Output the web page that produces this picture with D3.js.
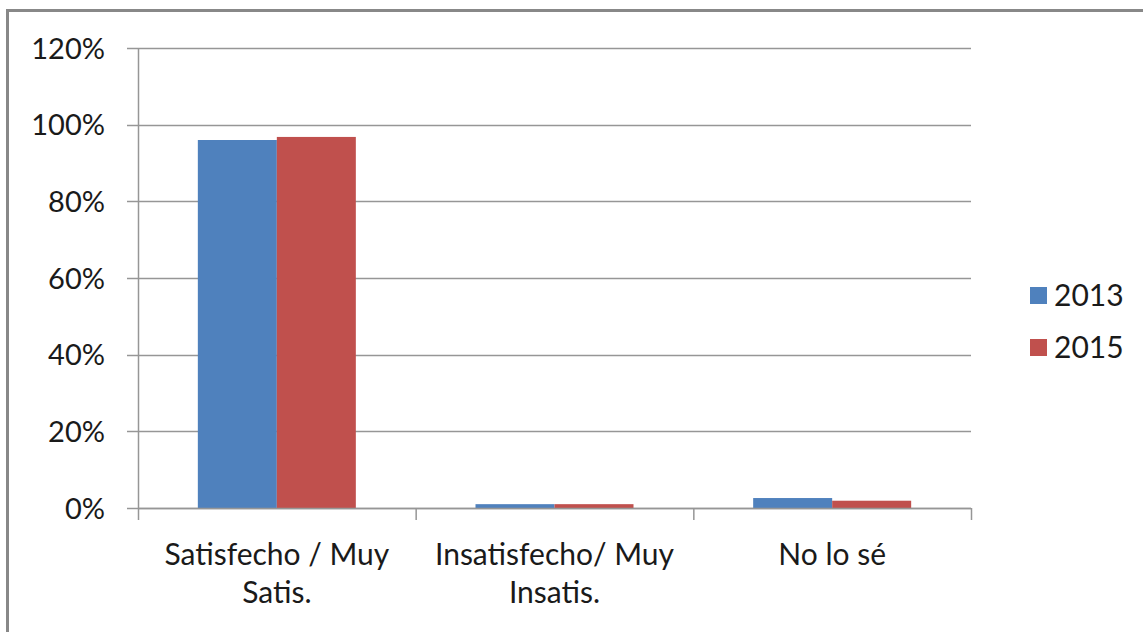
<!DOCTYPE html>
<html>
<head>
<meta charset="utf-8">
<script src="https://cdn.jsdelivr.net/npm/d3@7"></script>
<style>
  html, body { margin: 0; padding: 0; background: #fff; }
  svg { display: block; }
  text { font-family: Lato, "Open Sans", sans-serif; fill: #1a1a1a; }
</style>
</head>
<body>
<svg id="chart" width="1143" height="632"></svg>
<script>
// Survey satisfaction, share of respondents by answer
const categories = [["Satisfecho / Muy", "Satis."], ["Insatisfecho/ Muy", "Insatis."], ["No lo sé"]];
const seriesNames = ["2013", "2015"];
const values2013 = [0.96, 0.01, 0.026];
const values2015 = [0.968, 0.01, 0.019];
const yTicks = [0, 0.2, 0.4, 0.6, 0.8, 1.0, 1.2];
const colors = ["#4f81bd", "#c0504d"];

const svg = d3.select("#chart");
const plotL = 138, plotR = 971, plotT = 48, plotB = 508;

// outer frame
svg.append("rect").attr("x", 7.5).attr("y", 10.5).attr("width", 1143).attr("height", 640)
  .attr("fill", "none").attr("stroke", "#888").attr("stroke-width", 3);

const x = d3.scaleBand().domain(d3.range(categories.length)).range([plotL, plotR]);
const y = d3.scaleLinear().domain([0, 1.2]).range([plotB, plotT]);
const barW = 79;

// gridlines
svg.append("g").selectAll("line").data(yTicks).join("line")
  .attr("x1", plotL - 11).attr("x2", plotR)
  .attr("y1", d => Math.round(y(d)) + 0.5).attr("y2", d => Math.round(y(d)) + 0.5)
  .attr("stroke", "#969696").attr("stroke-width", 1.5);

// y tick labels
svg.append("g").selectAll("text").data(yTicks).join("text")
  .attr("x", 105).attr("y", d => y(d) + 10.5)
  .attr("text-anchor", "end").attr("font-size", 29)
  .text(d => d3.format(".0%")(d));

// bars
const series = [values2013, values2015];
series.forEach((vals, s) => {
  svg.append("g").selectAll("rect").data(vals).join("rect")
    .attr("x", (d, i) => x(i) + x.bandwidth() / 2 - barW + s * barW)
    .attr("width", barW)
    .attr("y", d => y(d))
    .attr("height", d => y(0) - y(d))
    .attr("fill", colors[s]);
});

// axis lines and category ticks
svg.append("line").attr("x1", plotL + 0.5).attr("x2", plotL + 0.5).attr("y1", plotT).attr("y2", plotB + 12)
  .attr("stroke", "#969696").attr("stroke-width", 1.5);
svg.append("line").attr("x1", plotL).attr("x2", plotR).attr("y1", Math.round(y(0)) + 0.5).attr("y2", Math.round(y(0)) + 0.5)
  .attr("stroke", "#969696").attr("stroke-width", 1.5);
svg.append("g").selectAll("line").data(d3.range(1, categories.length + 1)).join("line")
  .attr("x1", i => (i === categories.length ? plotR : x(i)) + 0.5)
  .attr("x2", i => (i === categories.length ? plotR : x(i)) + 0.5)
  .attr("y1", plotB).attr("y2", plotB + 12)
  .attr("stroke", "#969696").attr("stroke-width", 1.5);

// category labels
categories.forEach((lines, i) => {
  const cx = x(i) + x.bandwidth() / 2;
  const t = svg.append("text").attr("text-anchor", "middle").attr("font-size", 30)
    .attr("x", cx).attr("y", 565);
  lines.forEach((ln, k) => t.append("tspan").attr("x", cx).attr("dy", k ? 38 : 0).text(ln));
});

// legend
const leg = svg.append("g");
seriesNames.forEach((n, i) => {
  leg.append("rect").attr("x", 1030).attr("y", 287 + i * 52).attr("width", 17).attr("height", 17).attr("fill", colors[i]);
  leg.append("text").attr("x", 1054).attr("y", 306 + i * 52).attr("font-size", 30).text(n);
});
</script>
</body>
</html>
